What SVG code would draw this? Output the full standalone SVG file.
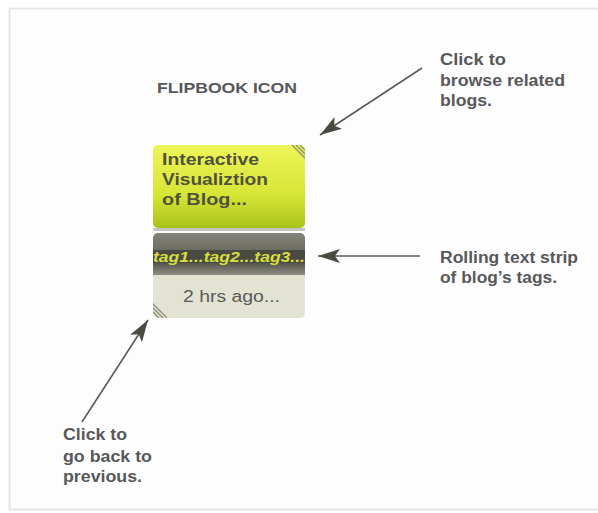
<svg xmlns="http://www.w3.org/2000/svg" width="598" height="513" viewBox="0 0 598 513">
  <defs>
    <linearGradient id="gYellow" x1="0" y1="0" x2="0" y2="1">
      <stop offset="0" stop-color="#eef55a"/>
      <stop offset="0.6" stop-color="#d6e635"/>
      <stop offset="1" stop-color="#a9c21a"/>
    </linearGradient>
    <linearGradient id="gStripTop" x1="0" y1="0" x2="0" y2="1">
      <stop offset="0" stop-color="#84847a"/>
      <stop offset="1" stop-color="#6c6c62"/>
    </linearGradient>
    <linearGradient id="gStripBottom" x1="0" y1="0" x2="0" y2="1">
      <stop offset="0" stop-color="#55554d"/>
      <stop offset="1" stop-color="#8e8e84"/>
    </linearGradient>
    <clipPath id="clipLower">
      <rect x="153" y="233" width="152" height="85" rx="5"/>
    </clipPath>
    <clipPath id="clipUpper">
      <rect x="153" y="145" width="152" height="83" rx="5"/>
    </clipPath>
    <marker id="head" markerWidth="24" markerHeight="14" refX="22" refY="7" orient="auto" markerUnits="userSpaceOnUse">
      <path d="M0,0 L22,7 L0,14 L5,7 Z" fill="#4a4a44"/>
    </marker>
  </defs>
  <style>
    .lbl { font-family: "Liberation Sans", Arial, sans-serif; font-weight: bold; fill: #58585a; }
    .title { font-family: "Liberation Sans", Arial, sans-serif; font-weight: bold; font-size: 17px; fill: #52523c; }
    .conn { stroke: #5a5a56; stroke-width: 1.6; fill: none; marker-end: url(#head); }
    .hatch { stroke: #8e8e74; stroke-width: 1.3; }
  </style>

  <rect width="598" height="513" fill="#ffffff"/>
  <!-- outer frame -->
  <rect x="9.5" y="8.5" width="600" height="501" fill="#fdfdfd" stroke="#e6e6e6" stroke-width="2"/>

  <!-- heading -->
  <text class="lbl" x="157" y="93" font-size="14.5" textLength="140" lengthAdjust="spacingAndGlyphs">FLIPBOOK ICON</text>

  <!-- flipbook icon -->
  <g id="flipbook">
    <rect x="153" y="145" width="152" height="83" rx="5" fill="url(#gYellow)"/>
    <g class="hatch" clip-path="url(#clipUpper)">
      <line x1="291" y1="144" x2="306" y2="159"/>
      <line x1="295" y1="144" x2="306" y2="155"/>
      <line x1="299" y1="144" x2="306" y2="151"/>
    </g>
    <text class="title" x="162" y="165" textLength="97" lengthAdjust="spacingAndGlyphs">Interactive</text>
    <text class="title" x="162" y="185" textLength="106" lengthAdjust="spacingAndGlyphs">Visualiztion</text>
    <text class="title" x="162" y="205" textLength="85" lengthAdjust="spacingAndGlyphs">of Blog...</text>

    <rect x="153" y="228" width="152" height="3" fill="#c4c4c0"/>

    <g clip-path="url(#clipLower)">
      <rect x="153" y="233" width="152" height="17" fill="url(#gStripTop)"/>
      <rect x="153" y="250" width="152" height="13" fill="#4a4a43"/>
      <rect x="153" y="263" width="152" height="12" fill="url(#gStripBottom)"/>
      <rect x="153" y="275" width="152" height="43" fill="#e3e3d3"/>
      <text x="153" y="262" font-family="'Liberation Sans', Arial, sans-serif" font-weight="bold" font-style="italic" font-size="15" fill="#d6de3c" textLength="152" lengthAdjust="spacingAndGlyphs">tag1...tag2...tag3...</text>
      <text x="183" y="302" font-family="'Liberation Sans', Arial, sans-serif" font-size="16" fill="#5a5a56" textLength="97" lengthAdjust="spacingAndGlyphs">2 hrs ago...</text>
      <g class="hatch">
        <line x1="152" y1="303" x2="167" y2="318"/>
        <line x1="152" y1="307" x2="163" y2="318"/>
        <line x1="152" y1="311" x2="159" y2="318"/>
      </g>
    </g>
  </g>

  <!-- callout labels -->
  <g id="note-browse">
    <text class="lbl" font-size="16">
      <tspan x="440" y="65" textLength="66" lengthAdjust="spacingAndGlyphs">Click to</tspan>
      <tspan x="440" y="86" textLength="125" lengthAdjust="spacingAndGlyphs">browse related</tspan>
      <tspan x="440" y="106" textLength="52" lengthAdjust="spacingAndGlyphs">blogs.</tspan>
    </text>
  </g>
  <g id="note-strip">
    <text class="lbl" font-size="16">
      <tspan x="440" y="263" textLength="138" lengthAdjust="spacingAndGlyphs">Rolling text strip</tspan>
      <tspan x="440" y="283" textLength="117" lengthAdjust="spacingAndGlyphs">of blog’s tags.</tspan>
    </text>
  </g>
  <g id="note-back">
    <text class="lbl" font-size="16">
      <tspan x="63" y="440" textLength="64" lengthAdjust="spacingAndGlyphs">Click to</tspan>
      <tspan x="63" y="462" textLength="89" lengthAdjust="spacingAndGlyphs">go back to</tspan>
      <tspan x="63" y="482" textLength="79" lengthAdjust="spacingAndGlyphs">previous.</tspan>
    </text>
  </g>

  <!-- connectors -->
  <g id="connectors">
    <line class="conn" x1="422" y1="68" x2="320" y2="135"/>
    <line class="conn" x1="420" y1="256" x2="318" y2="256"/>
    <line class="conn" x1="82" y1="422" x2="148" y2="320"/>
  </g>
</svg>
